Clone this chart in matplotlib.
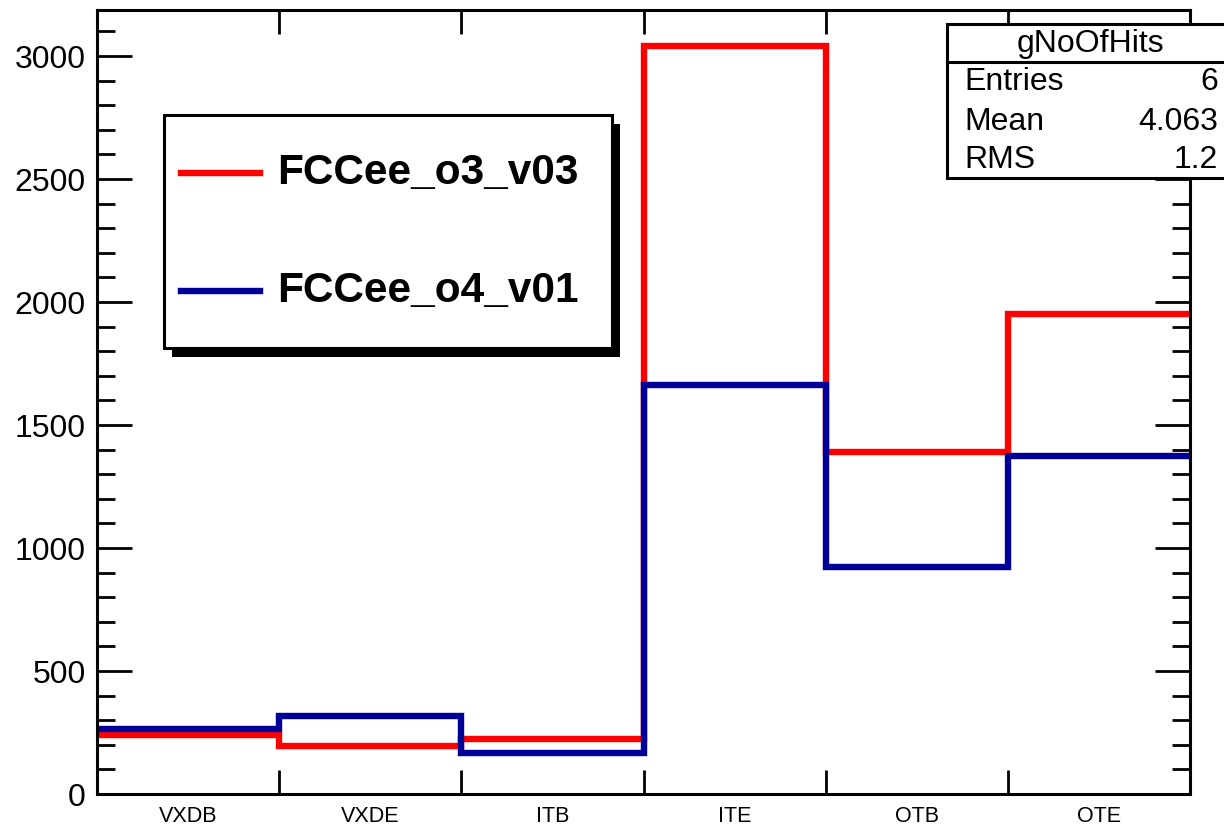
import numpy as np
import matplotlib
matplotlib.use("Agg")
import matplotlib.pyplot as plt
from matplotlib.patches import Rectangle
from matplotlib.lines import Line2D
from matplotlib.ticker import MultipleLocator

matplotlib.rcParams.update({'font.family': ['Liberation Sans', 'DejaVu Sans']})

# data
detectors = ['VXDB', 'VXDE', 'ITB', 'ITE', 'OTB', 'OTE']
hits_o3_v03 = [240, 195, 222, 3040, 1390, 1953]
hits_o4_v01 = [265, 318, 165, 1663, 923, 1372]
series_names = ['FCCee_o3_v03', 'FCCee_o4_v01']
stat_names = ['Entries', 'Mean', 'RMS']
stat_values = ['6', '4.063', '1.2']
hist_name = 'gNoOfHits'

W, H = 1224, 827
fig = plt.figure(figsize=(W / 100, H / 100), dpi=100)
ax = fig.add_axes([97 / W, 1 - 794 / H, (1190 - 97) / W, (794 - 10) / H])

edges = np.arange(len(detectors) + 1)
red, blue = '#ff0000', '#000099'
lw = 4.6
ax.stairs(hits_o3_v03, edges, baseline=None, color=red, lw=lw)
ax.stairs(hits_o4_v01, edges, baseline=None, color=blue, lw=lw)

ax.set_xlim(0, len(detectors))
ax.set_ylim(0, 3187)

for s in ax.spines.values():
    s.set_linewidth(2.2)

ax.yaxis.set_major_locator(MultipleLocator(500))
ax.yaxis.set_minor_locator(MultipleLocator(100))
ax.tick_params(axis='y', which='major', direction='in', length=25, width=2,
               left=True, right=True, labelsize=23, pad=8)
ax.tick_params(axis='y', which='minor', direction='in', length=13, width=2,
               left=True, right=True)

ax.set_xticks(edges[1:-1])
ax.set_xticklabels([])
ax.set_xticks(edges[:-1] + 0.5, minor=True)
ax.set_xticklabels(detectors, minor=True,
                   fontfamily=['Liberation Sans Narrow', 'Liberation Sans'])
ax.tick_params(axis='x', which='major', direction='in', length=17, width=2,
               top=True, bottom=True)
ax.tick_params(axis='x', which='minor', length=0, labelsize=15.5, pad=9,
               top=False)


def fpx(x, y):
    return x / W, 1 - y / H


# legend box with black shadow
x0, y0, x1, y1 = 164, 115, 612, 348
sx, sy = 8, 9
fig.patches.append(Rectangle(fpx(x0 + sx, y1 + sy), (x1 - x0) / W, (y1 - y0) / H,
                             transform=fig.transFigure, facecolor='black',
                             edgecolor='black', lw=0, zorder=5))
fig.patches.append(Rectangle(fpx(x0, y1), (x1 - x0) / W, (y1 - y0) / H,
                             transform=fig.transFigure, facecolor='white',
                             edgecolor='black', lw=2.2, zorder=6))
for name, col, yy in zip(series_names, [red, blue], [173, 291]):
    fig.lines.append(Line2D([181 / W, 260 / W], [1 - yy / H] * 2, color=col,
                            lw=lw, transform=fig.transFigure, zorder=7))
    fig.text(277 / W, 1 - yy / H, name, fontsize=30.5, fontweight='bold',
             va='center', ha='left', zorder=7)

# stats box
bx0, by0, bx1, by1, bsep = 947, 24, 1240, 178, 62
fig.patches.append(Rectangle(fpx(bx0, by1), (bx1 - bx0) / W, (by1 - by0) / H,
                             transform=fig.transFigure, facecolor='white',
                             edgecolor='black', lw=2.2, zorder=6))
fig.lines.append(Line2D([bx0 / W, bx1 / W], [1 - bsep / H] * 2, color='black',
                        lw=2.2, transform=fig.transFigure, zorder=7))
fig.text(1090 / W, 1 - 44 / H, hist_name, fontsize=23, ha='center',
         va='center', zorder=7)
for name, val, yy in zip(stat_names, stat_values, [82, 122, 160]):
    fig.text(964 / W, 1 - yy / H, name, fontsize=23, ha='left',
             va='center', zorder=7)
    fig.text(1218 / W, 1 - yy / H, val, fontsize=23, ha='right',
             va='center', zorder=7)

fig.savefig('out.png', dpi=100)
